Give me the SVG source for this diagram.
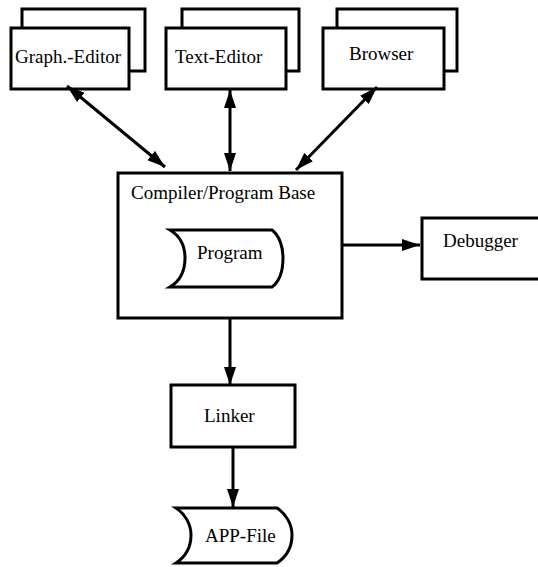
<svg xmlns="http://www.w3.org/2000/svg" width="538" height="567" viewBox="0 0 538 567">
  <style>
    .box { fill: #fff; stroke: #000; stroke-width: 3; }
    .lbl { font-family: "Liberation Serif", "Times New Roman", serif; font-size: 19px; fill: #000; }
    .conn { stroke: #000; stroke-width: 3; fill: none; }
  </style>
  <defs>
    <marker id="head" viewBox="0 0 18 12" refX="18" refY="6" markerWidth="18" markerHeight="12" markerUnits="userSpaceOnUse" orient="auto-start-reverse">
      <path d="M0,0 L18,6 L0,12 Z" fill="#000"/>
    </marker>
  </defs>
  <rect width="538" height="567" fill="#fff"/>

  <!-- tool windows (stacked) -->
  <g id="graph-editor">
    <rect class="box" x="22" y="9" width="123" height="62"/>
    <rect class="box" x="11" y="28" width="118" height="61"/>
    <text class="lbl" x="15" y="63">Graph.-Editor</text>
  </g>
  <g id="text-editor">
    <rect class="box" x="182" y="9" width="117" height="62"/>
    <rect class="box" x="166" y="28" width="120" height="61"/>
    <text class="lbl" x="175" y="63">Text-Editor</text>
  </g>
  <g id="browser">
    <rect class="box" x="337" y="9" width="120" height="62"/>
    <rect class="box" x="323" y="28" width="121" height="61"/>
    <text class="lbl" x="349" y="60">Browser</text>
  </g>

  <!-- central program base -->
  <g id="compiler">
    <rect class="box" x="118" y="173" width="224" height="145"/>
    <text class="lbl" x="131" y="199">Compiler/Program Base</text>
  </g>
  <g id="program">
    <path class="box" d="M170,230 L272,230 C280,236 283,248 283,258 C283,270 280,281 272,287 L170,287 C180,281 185,270 185,258 C185,246 180,236 170,230 Z"/>
    <text class="lbl" x="197" y="259">Program</text>
  </g>

  <g id="debugger">
    <rect class="box" x="422" y="218" width="130" height="61"/>
    <text class="lbl" x="443" y="247">Debugger</text>
  </g>

  <g id="linker">
    <rect class="box" x="171" y="385" width="124" height="62"/>
    <text class="lbl" x="204" y="422">Linker</text>
  </g>

  <g id="app-file">
    <path class="box" d="M176,508 L277,508 C286,514 292,524 292,535 C292,547 286,557 277,563 L176,563 C185,557 191,547 191,535 C191,524 185,514 176,508 Z"/>
    <text class="lbl" x="205" y="542">APP-File</text>
  </g>

  <!-- connectors -->
  <g id="connectors">
    <line class="conn" x1="67" y1="86" x2="165" y2="167" marker-start="url(#head)" marker-end="url(#head)"/>
    <line class="conn" x1="230" y1="90" x2="230" y2="171" marker-start="url(#head)" marker-end="url(#head)"/>
    <line class="conn" x1="377" y1="87" x2="296" y2="170" marker-start="url(#head)" marker-end="url(#head)"/>
    <line class="conn" x1="343" y1="245" x2="420" y2="245" marker-end="url(#head)"/>
    <line class="conn" x1="230" y1="319" x2="230" y2="385" marker-end="url(#head)"/>
    <line class="conn" x1="233" y1="448" x2="233" y2="507" marker-end="url(#head)"/>
  </g>
</svg>
